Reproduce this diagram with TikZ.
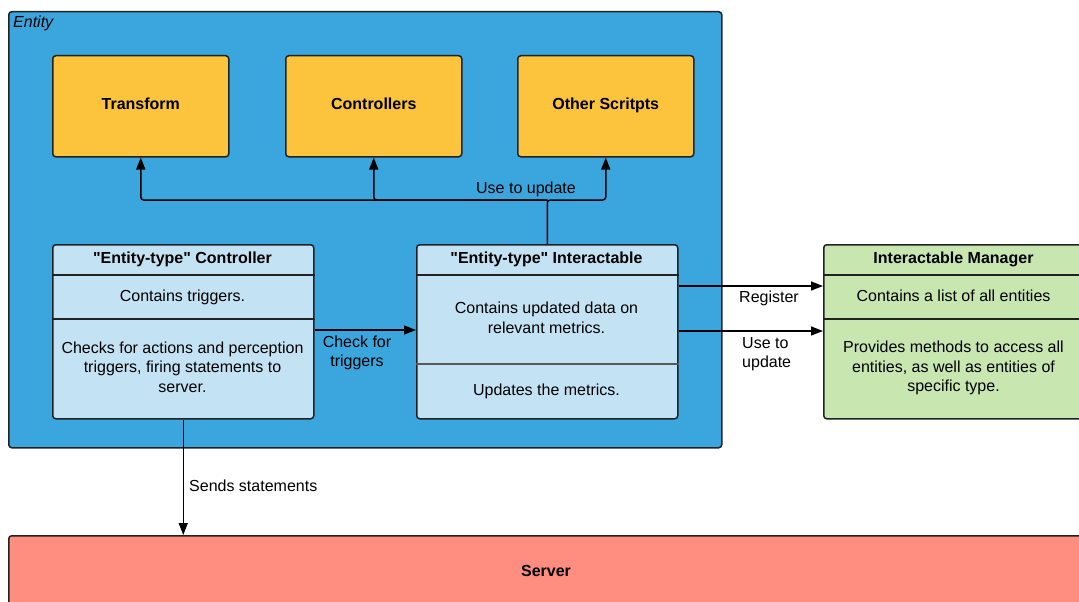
\documentclass[tikz,border=0pt]{standalone}
\usepackage{fontspec}
\setmainfont{Liberation Sans}
\usetikzlibrary{arrows.meta}
\definecolor{entityblue}{HTML}{3BA5DD}
\definecolor{scriptyellow}{HTML}{FCC43C}
\definecolor{paleblue}{HTML}{C3E3F5}
\definecolor{palegreen}{HTML}{C8E6B0}
\definecolor{serverred}{HTML}{FF8E80}
\definecolor{edge}{HTML}{222222}
% straight double quote, set as a glyph so the TeX ligature mapping leaves it alone
\newcommand{\qt}{\XeTeXglyph\XeTeXcharglyph"22\relax}
\tikzset{
  box/.style={draw=edge, line width=1.5pt, rounded corners=3pt, inner sep=0pt},
  divider/.style={draw=edge, line width=1.5pt},
  lbl/.style={font=\fontsize{16}{19.5}\selectfont, align=center, inner sep=0pt},
  ttl/.style={font=\fontsize{16}{19.5}\selectfont\bfseries, align=center, inner sep=0pt, anchor=base},
  one/.style={lbl, anchor=base},
  arr/.style={draw=black, line width=1.5pt, -{Triangle[length=12pt,width=9pt]}},
}
\begin{document}
\begin{tikzpicture}[x=1pt,y=-1pt]
\useasboundingbox (0,0) rectangle (1079,602);
\begin{scope}
\clip (0,0) rectangle (1079,602);

% outer container
\node[box, fill=entityblue, minimum width=713pt, minimum height=436pt, anchor=north west] (entity) at (8,11) {};
\node[font=\fontsize{16}{18}\selectfont\itshape, anchor=base west, inner sep=0pt] (entitytitle) at (13,28) {Entity};

% scripts
\node[box, fill=scriptyellow, minimum width=176pt, minimum height=101pt, anchor=north west] (transform) at (52,55) {};
\node[box, fill=scriptyellow, minimum width=176pt, minimum height=101pt, anchor=north west] (controllers) at (285,55) {};
\node[box, fill=scriptyellow, minimum width=176pt, minimum height=101pt, anchor=north west] (others) at (517,55) {};
\node[ttl] (transformT) at (transform.center |- 0,110) {Transform};
\node[ttl] (controllersT) at (controllers.center |- 0,110) {Controllers};
\node[ttl] (othersT) at (others.center |- 0,110) {Other Scritpts};

% entity-type controller
\node[box, fill=paleblue, minimum width=261pt, minimum height=174pt, anchor=north west] (ctrl) at (52,244) {};
\draw[divider] (ctrl.west |- 0,275) -- (ctrl.east |- 0,275);
\draw[divider] (ctrl.west |- 0,319) -- (ctrl.east |- 0,319);
\node[ttl] (ctrlT) at (182.5,263) {\qt Entity-type\qt{} Controller};
\node[one] (ctrlA) at (182.5,301) {Contains triggers.};
\node[lbl] (ctrlB) at (182.5,367) {Checks for actions and perception\\triggers, firing statements to\\server.};

% entity-type interactable
\node[box, fill=paleblue, minimum width=261pt, minimum height=174pt, anchor=north west] (inter) at (416,244) {};
\draw[divider] (inter.west |- 0,275) -- (inter.east |- 0,275);
\draw[divider, draw=edge!75] (inter.west |- 0,364) -- (inter.east |- 0,364);
\node[ttl] (interT) at (546.5,263) {\qt Entity-type\qt{} Interactable};
\node[lbl] (interA) at (546.5,318) {Contains updated data on\\relevant metrics.};
\node[one] (interB) at (546.5,395) {Updates the metrics.};

% interactable manager
\node[box, fill=palegreen, minimum width=261pt, minimum height=174pt, anchor=north west] (mgr) at (823,244) {};
\draw[divider] (mgr.west |- 0,275) -- (mgr.east |- 0,275);
\draw[divider] (mgr.west |- 0,319) -- (mgr.east |- 0,319);
\node[ttl] (mgrT) at (953.5,263) {Interactable Manager};
\node[one] (mgrA) at (953.5,301) {Contains a list of all entities};
\node[lbl] (mgrB) at (953.5,368) {Provides methods to access all\\entities, as well as entities of\\specific type.};

% server
\node[box, fill=serverred, minimum width=1076pt, minimum height=80pt, anchor=north west] (server) at (8,535) {};
\node[ttl] (serverT) at (546,576) {Server};

% update bus
\coordinate (bus) at (inter.north |- 0,200);
\draw[arr, rounded corners=3pt] (inter.north) -- (bus) -| (others.south);
\draw[arr, rounded corners=3pt] (bus) -| (controllers.south);
\draw[arr, rounded corners=3pt] (bus) -| (transform.south);
\node[one] (busL) at (526,193) {Use to update};

% controller to interactable
\draw[arr] (ctrl.east |- 0,330) -- (inter.west |- 0,330);
\node[lbl] (checkL) at (357,353) {Check for\\triggers};

% interactable to manager
\draw[arr] (inter.east |- 0,286) -- (mgr.west |- 0,286);
\node[one] (regL) at (769,302) {Register};
\draw[arr] (inter.east |- 0,331) -- (mgr.west |- 0,331);
\node[lbl, align=left, anchor=west] (updL) at (742,354) {Use to\\update};

% controller to server
\draw[arr] (ctrl.south) -- (server.north -| ctrl.south);
\node[one, anchor=base west] (sendL) at (189,491) {Sends statements};
\end{scope}
\end{tikzpicture}
\end{document}
